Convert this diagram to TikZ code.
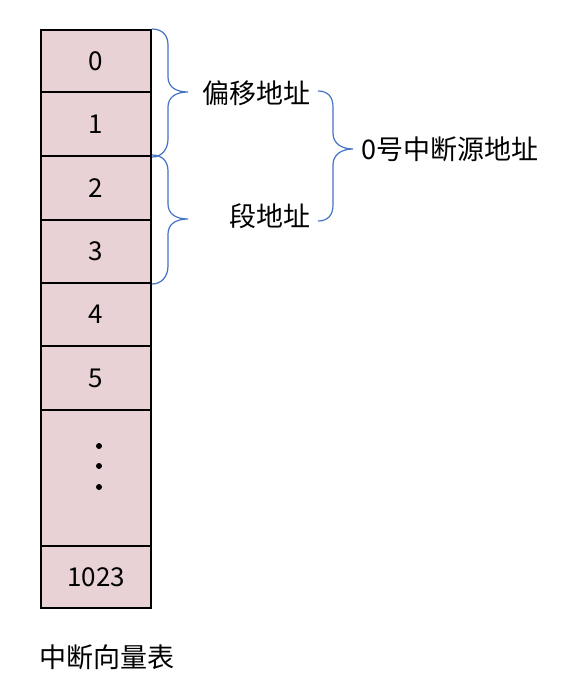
\documentclass[tikz,border=0pt]{standalone}
\usepackage{fontspec}
\setmainfont{Noto Sans CJK SC}
\definecolor{cellfill}{RGB}{232,210,214}
\definecolor{bracecol}{RGB}{68,114,196}
\begin{document}
\begin{tikzpicture}[x=1pt,y=-1pt,
  cell/.style={draw=black,line width=2pt,fill=cellfill,minimum width=110pt,inner sep=0pt,font=\fontsize{26}{30}\selectfont},
  brc/.style={draw=bracecol,line width=1.2pt},
  lbl/.style={inner sep=0pt,font=\fontsize{27}{32}\selectfont}]
\useasboundingbox (0,0) rectangle (563,688);
\node[cell,minimum height=62pt] (r0) at (96,61) {0};
\node[cell,minimum height=64pt] (r1) at (96,124) {1};
\node[cell,minimum height=64pt] (r2) at (96,188) {2};
\node[cell,minimum height=63pt] (r3) at (96,251.5) {3};
\node[cell,minimum height=63pt] (r4) at (96,314.5) {4};
\node[cell,minimum height=64pt] (r5) at (96,378) {5};
\node[cell,minimum height=136pt] (r6) at (96,478) {};
\node[cell,minimum height=62pt] (r7) at (96,577) {1023};
\fill (99,446) circle (3pt) (99,466) circle (3pt) (99,487) circle (3pt);
\node[lbl,anchor=east] (l1) at (311,93) {偏移地址};
\node[lbl,anchor=east] (l2) at (311,216) {段地址};
\node[lbl,anchor=west] (l3) at (361,149) {0号中断源地址};
\node[lbl,anchor=west] (title) at (39,657) {中断向量表};
% brace over rows 0-1
\draw[brc] (r0.north east) .. controls +(10,0) and +(0,-10) .. ++(16,16)
  -- ++(0,32) .. controls +(0,10) and +(-12,0) .. ++(20,15)
  .. controls +(-12,0) and +(0,-10) .. ++(-20,15)
  -- ++(0,32) .. controls +(0,10) and +(10,0) .. (r1.south east);
% brace over rows 2-3
\draw[brc] (r2.north east) .. controls +(10,0) and +(0,-10) .. ++(16,16)
  -- ++(0,33) .. controls +(0,10) and +(-12,0) .. ++(20,15)
  .. controls +(-12,0) and +(0,-10) .. ++(-20,15)
  -- ++(0,32) .. controls +(0,10) and +(10,0) .. (r3.south east);
% brace joining the two labels
\draw[brc] ([xshift=7pt,yshift=2pt]l1.east) .. controls +(10,0) and +(0,-10) .. ++(15,16)
  -- ++(0,26) .. controls +(0,10) and +(-12,0) .. ++(20,16)
  .. controls +(-12,0) and +(0,-10) .. ++(-20,16)
  -- ++(0,40) .. controls +(0,10) and +(10,0) .. ([xshift=7pt,yshift=-5pt]l2.east);
\end{tikzpicture}
\end{document}
